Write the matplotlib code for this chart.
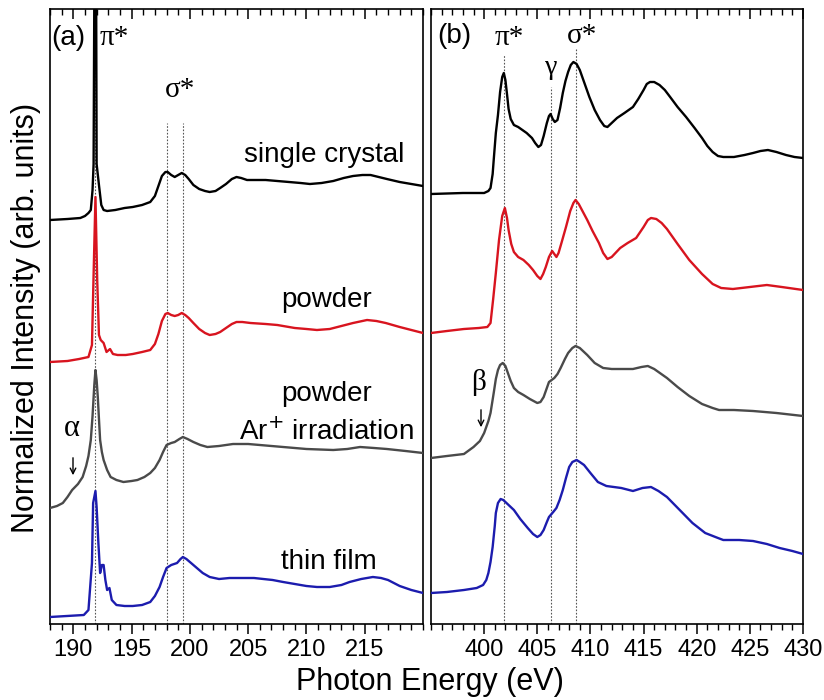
import matplotlib
matplotlib.use("Agg")
import matplotlib.pyplot as plt
from matplotlib.patches import FancyArrowPatch
from matplotlib.ticker import MultipleLocator, FixedLocator

plt.rcParams['font.family'] = ['Liberation Sans', 'DejaVu Sans']

# ---------------- B K-edge (panel a) ----------------
b_single_x = [188.0, 189.5, 190.6, 191.0, 191.3, 191.5, 191.65, 191.74, 191.9, 192.0, 192.2,
              192.4, 192.6, 192.9, 193.6, 194.4, 195.1, 195.9, 196.6, 197.0, 197.3, 197.6,
              197.9, 198.1, 198.4, 198.7, 199.0, 199.3, 199.6, 199.9, 200.3, 200.8, 201.3,
              201.7, 202.2, 202.6, 203.1, 203.6, 204.0, 204.4, 204.9, 205.5, 206.5, 207.5,
              208.5, 209.5, 210.3, 211.3, 212.3, 213.2, 214.0, 214.8, 215.5, 216.2, 216.9,
              218.0, 219.0, 220.0]
b_single_y = [4.04, 4.05, 4.06, 4.08, 4.11, 4.14, 4.34, 4.60, 9.00, 4.60, 4.39,
              4.19, 4.14, 4.13, 4.14, 4.16, 4.17, 4.19, 4.22, 4.28, 4.38, 4.48,
              4.52, 4.52, 4.49, 4.47, 4.49, 4.51, 4.49, 4.45, 4.39, 4.35, 4.33,
              4.32, 4.33, 4.36, 4.40, 4.45, 4.47, 4.46, 4.44, 4.44, 4.44, 4.43,
              4.42, 4.41, 4.40, 4.41, 4.43, 4.46, 4.48, 4.49, 4.49, 4.47, 4.45,
              4.42, 4.40, 4.38]

b_powder_x = [188.0, 189.5, 190.5, 191.3, 191.6, 191.75, 191.9, 192.05, 192.2, 192.35, 192.6,
              192.85, 193.15, 193.4, 193.8, 194.5, 195.1, 195.9, 196.6, 197.0, 197.3, 197.6,
              197.9, 198.1, 198.4, 198.7, 199.0, 199.3, 199.6, 199.9, 200.3, 200.8, 201.3,
              201.7, 202.2, 202.6, 203.1, 203.6, 204.0, 204.5, 205.2, 206.5, 207.5, 209.0,
              210.0, 210.9, 212.0, 213.0, 214.0, 215.2, 216.0, 216.8, 218.0, 219.0, 220.0]
b_powder_y = [2.62, 2.63, 2.65, 2.67, 2.79, 3.54, 4.27, 3.44, 2.89, 2.84, 2.81,
              2.72, 2.75, 2.70, 2.69, 2.69, 2.70, 2.72, 2.74, 2.80, 2.90, 3.03,
              3.10, 3.11, 3.09, 3.08, 3.09, 3.11, 3.09, 3.06, 3.01, 2.95, 2.91,
              2.89, 2.90, 2.92, 2.96, 3.00, 3.02, 3.02, 3.01, 3.00, 2.99, 2.96,
              2.95, 2.94, 2.95, 2.98, 3.01, 3.04, 3.03, 3.01, 2.97, 2.94, 2.91]

b_irrad_x = [188.0, 188.6, 189.1, 189.5, 189.9, 190.4, 190.8, 191.1, 191.3, 191.5, 191.65,
             191.8, 191.9, 192.0, 192.1, 192.2, 192.3, 192.45, 192.6, 192.9, 193.2, 193.7,
             194.3, 195.0, 195.5, 196.1, 196.6, 197.0, 197.4, 197.7, 198.0, 198.4, 198.7,
             199.1, 199.4, 199.8, 200.3, 200.9, 201.5, 202.5, 203.7, 205.0, 206.0, 208.0,
             210.0, 212.3, 213.5, 214.6, 215.8, 216.9, 218.5, 220.0]
b_irrad_y = [1.16, 1.18, 1.21, 1.27, 1.34, 1.40, 1.47, 1.58, 1.68, 1.84, 2.08,
             2.39, 2.54, 2.44, 2.27, 2.05, 1.84, 1.72, 1.64, 1.54, 1.47, 1.44,
             1.42, 1.43, 1.44, 1.47, 1.51, 1.56, 1.64, 1.72, 1.79, 1.81, 1.82,
             1.85, 1.87, 1.85, 1.82, 1.79, 1.77, 1.78, 1.80, 1.80, 1.79, 1.77,
             1.75, 1.74, 1.75, 1.77, 1.76, 1.75, 1.73, 1.71]

b_film_x = [188.0, 190.9, 191.3, 191.6, 191.7, 191.9, 192.0, 192.15, 192.3, 192.45, 192.6,
            192.75, 192.9, 193.1, 193.3, 193.7, 194.4, 195.1, 195.9, 196.6, 197.0, 197.4,
            197.7, 198.0, 198.4, 198.9, 199.2, 199.4, 199.7, 200.1, 200.6, 201.1, 201.7,
            202.5, 203.4, 204.3, 205.5, 207.1, 208.0, 209.0, 210.0, 210.9, 212.0, 213.0,
            213.7, 214.7, 215.7, 216.4, 217.0, 218.0, 219.0, 220.0]
b_film_y = [0.07, 0.09, 0.14, 0.61, 1.21, 1.33, 1.17, 0.81, 0.51, 0.59, 0.59,
            0.44, 0.34, 0.36, 0.24, 0.19, 0.18, 0.18, 0.19, 0.22, 0.28, 0.37,
            0.47, 0.56, 0.59, 0.61, 0.65, 0.67, 0.65, 0.61, 0.56, 0.51, 0.47,
            0.45, 0.46, 0.46, 0.46, 0.44, 0.42, 0.40, 0.38, 0.37, 0.37, 0.39,
            0.42, 0.45, 0.47, 0.46, 0.44, 0.38, 0.34, 0.31]

# ---------------- N K-edge (panel b) ----------------
n_single_x = [395.0, 398.0, 400.0, 400.4, 400.6, 400.8, 400.9, 401.1, 401.3, 401.5, 401.7,
              401.85, 402.0, 402.15, 402.3, 402.5, 402.8, 403.2, 403.6, 404.0, 404.5, 404.8,
              405.1, 405.35, 405.6, 405.9, 406.1, 406.25, 406.45, 406.65, 406.9, 407.15,
              407.4, 407.65, 407.9, 408.15, 408.4, 408.7, 409.0, 409.4, 409.9, 410.4, 410.9,
              411.3, 411.6, 411.9, 412.5, 413.2, 414.0, 414.5, 415.0, 415.3, 415.6, 416.0,
              416.5, 417.0, 417.5, 418.2, 419.0, 419.8, 420.5, 421.0, 421.5, 422.0, 422.5,
              423.5, 424.5, 425.3, 426.0, 426.7, 427.5, 428.4, 429.2, 430.0]
n_single_y = [4.30, 4.31, 4.31, 4.33, 4.36, 4.50, 4.64, 4.91, 5.09, 5.32, 5.47,
              5.51, 5.44, 5.30, 5.15, 5.05, 4.99, 4.97, 4.94, 4.91, 4.86, 4.81,
              4.77, 4.79, 4.88, 5.01, 5.08, 5.10, 5.05, 5.02, 5.04, 5.16,
              5.31, 5.43, 5.52, 5.59, 5.62, 5.60, 5.54, 5.42, 5.27, 5.14, 5.04,
              4.98, 4.97, 5.00, 5.06, 5.11, 5.17, 5.25, 5.34, 5.40, 5.42, 5.42,
              5.39, 5.34, 5.27, 5.17, 5.07, 4.96, 4.86, 4.78, 4.72, 4.68, 4.67,
              4.67, 4.69, 4.71, 4.73, 4.74, 4.72, 4.69, 4.67, 4.66]

n_powder_x = [395.0, 396.5, 398.1, 399.5, 400.3, 400.6, 400.85, 401.1, 401.4, 401.7, 401.95,
              402.15, 402.3, 402.55, 402.8, 403.2, 403.7, 404.2, 404.6, 405.0, 405.3, 405.55,
              405.8, 406.1, 406.4, 406.6, 406.8, 407.0, 407.3, 407.7, 408.1, 408.4, 408.6,
              408.9, 409.3, 409.7, 410.2, 410.8, 411.2, 411.6, 412.0, 412.8, 413.5, 414.3,
              415.0, 415.4, 415.7, 416.2, 416.7, 417.2, 418.2, 419.3, 420.5, 421.5, 422.3,
              423.4, 425.0, 426.6, 428.0, 430.0]
n_powder_y = [2.91, 2.93, 2.95, 2.96, 2.97, 3.01, 3.25, 3.51, 3.84, 4.08, 4.16,
              4.06, 3.94, 3.80, 3.72, 3.67, 3.64, 3.59, 3.54, 3.48, 3.45, 3.50,
              3.57, 3.67, 3.73, 3.70, 3.67, 3.71, 3.82, 3.97, 4.13, 4.21, 4.24,
              4.20, 4.12, 4.04, 3.93, 3.81, 3.71, 3.65, 3.67, 3.76, 3.81, 3.86,
              3.97, 4.04, 4.06, 4.05, 4.01, 3.95, 3.80, 3.64, 3.50, 3.40, 3.36,
              3.35, 3.37, 3.39, 3.37, 3.34]

n_irrad_x = [395.0, 396.5, 398.1, 399.0, 399.6, 400.0, 400.4, 400.6, 400.9, 401.1, 401.3,
             401.5, 401.75, 402.0, 402.2, 402.5, 402.8, 403.2, 403.7, 404.3, 405.0, 405.3,
             405.6, 405.9, 406.1, 406.6, 406.9, 407.2, 407.6, 407.9, 408.3, 408.6, 409.0,
             409.7, 410.4, 411.2, 412.0, 412.9, 414.0, 414.8, 415.4, 416.0, 417.2, 418.2,
             419.3, 420.5, 421.5, 422.1, 423.5, 425.3, 427.5, 430.0]
n_irrad_y = [1.66, 1.68, 1.70, 1.77, 1.83, 1.91, 2.03, 2.11, 2.31, 2.45, 2.54,
             2.59, 2.61, 2.58, 2.52, 2.43, 2.36, 2.32, 2.29, 2.25, 2.21, 2.22,
             2.27, 2.36, 2.42, 2.46, 2.50, 2.56, 2.65, 2.71, 2.76, 2.78, 2.76,
             2.69, 2.61, 2.56, 2.55, 2.55, 2.55, 2.57, 2.58, 2.55, 2.46, 2.37,
             2.28, 2.20, 2.16, 2.14, 2.14, 2.13, 2.11, 2.08]

n_film_x = [395.0, 396.5, 398.1, 399.3, 399.9, 400.2, 400.4, 400.6, 400.8, 401.0, 401.1,
            401.3, 401.55, 401.8, 402.0, 402.4, 402.8, 403.4, 404.1, 404.6, 405.0, 405.3,
            405.6, 405.9, 406.1, 406.5, 406.8, 407.1, 407.4, 407.7, 408.0, 408.3, 408.7,
            409.0, 409.4, 410.0, 410.7, 411.5, 412.9, 414.0, 414.9, 415.7, 416.4, 417.2,
            418.4, 419.6, 420.8, 422.0, 422.5, 424.0, 425.3, 426.6, 427.8, 429.0, 430.0]
n_film_y = [0.31, 0.32, 0.34, 0.36, 0.39, 0.44, 0.51, 0.62, 0.77, 0.98, 1.11,
            1.21, 1.25, 1.24, 1.22, 1.18, 1.14, 1.05, 0.96, 0.90, 0.87, 0.89,
            0.94, 1.02, 1.07, 1.12, 1.16, 1.24, 1.34, 1.46, 1.57, 1.62, 1.64,
            1.62, 1.59, 1.51, 1.42, 1.38, 1.36, 1.33, 1.36, 1.37, 1.33, 1.27,
            1.14, 1.01, 0.91, 0.86, 0.84, 0.84, 0.83, 0.80, 0.76, 0.73, 0.70]

b_marks = [191.9, 198.0, 199.4]
n_marks = [401.85, 406.3, 408.6]
b_mark_tops = [0.93, 0.815, 0.815]
n_mark_tops = [0.925, 0.873, 0.937]

colors = ['#000000', '#d8141f', '#4a4a4a', '#1c1cae']

W, H = 824, 700
fig = plt.figure(figsize=(W / 100, H / 100), dpi=100)


def frac(px, py):
    return px / W, 1 - py / H


ax_a = fig.add_axes([50 / W, 1 - 624 / H, 373 / W, 615 / H])
ax_b = fig.add_axes([431 / W, 1 - 624 / H, 372 / W, 615 / H])

for ax, marks, tops in ((ax_a, b_marks, b_mark_tops), (ax_b, n_marks, n_mark_tops)):
    for m, t in zip(marks, tops):
        ax.axvline(m, ymin=0, ymax=t, color='#555555', lw=0.8, ls=(0, (1.5, 1.5)), zorder=1)

lw = 1.7
for xs, ys, c in ((b_single_x, b_single_y, colors[0]), (b_powder_x, b_powder_y, colors[1]),
                  (b_irrad_x, b_irrad_y, colors[2]), (b_film_x, b_film_y, colors[3])):
    ax_a.plot(xs, ys, color=c, lw=lw, zorder=3, solid_joinstyle='round')
for xs, ys, c in ((n_single_x, n_single_y, colors[0]), (n_powder_x, n_powder_y, colors[1]),
                  (n_irrad_x, n_irrad_y, colors[2]), (n_film_x, n_film_y, colors[3])):
    ax_b.plot(xs, ys, color=c, lw=lw, zorder=3, solid_joinstyle='round')

ax_a.set_xlim(188, 220)
ax_b.set_xlim(395, 430)
for ax in (ax_a, ax_b):
    ax.set_ylim(0, 6.15)
    ax.set_yticks([])
    for s in ax.spines.values():
        s.set_linewidth(1.2)
    ax.xaxis.set_minor_locator(MultipleLocator(1))
    ax.tick_params(axis='x', which='both', bottom=True, top=True, labelsize=17, pad=4)
    ax.tick_params(axis='x', which='major', length=7, width=1.1)
    ax.tick_params(axis='x', which='minor', length=4, width=1.0)
    ax.tick_params(axis='x', which='both', direction='out')
    for t in ax.xaxis.get_major_ticks() + ax.xaxis.get_minor_ticks():
        t.tick2line.set_marker(matplotlib.lines.TICKDOWN)
ax_a.xaxis.set_major_locator(FixedLocator([190, 195, 200, 205, 210, 215]))
ax_b.xaxis.set_major_locator(FixedLocator([400, 405, 410, 415, 420, 425, 430]))
for ax in (ax_a, ax_b):
    for t in ax.xaxis.get_major_ticks() + ax.xaxis.get_minor_ticks():
        t.tick2line.set_marker(matplotlib.lines.TICKDOWN)

greek = ['Liberation Serif', 'DejaVu Serif']
fs_lab = 20
fig.text(*frac(68, 38), '(a)', fontsize=20, ha='center', va='center')
fig.text(*frac(454, 36), '(b)', fontsize=20, ha='center', va='center')
fig.text(*frac(114, 38), 'π*', fontsize=21, ha='center', va='center', family=greek)
fig.text(*frac(180, 90), 'σ*', fontsize=21, ha='center', va='center', family=greek)
fig.text(*frac(509, 38), 'π*', fontsize=21, ha='center', va='center', family=greek)
fig.text(*frac(582, 36), 'σ*', fontsize=21, ha='center', va='center', family=greek)
fig.text(*frac(551, 67), 'γ', fontsize=20, ha='center', va='center', family=greek)
fig.text(*frac(72, 428), 'α', fontsize=22, ha='center', va='center', family=greek)
fig.text(*frac(479, 383), 'β', fontsize=21, ha='center', va='center', family=greek)

fig.text(*frac(324, 155), 'single crystal', fontsize=fs_lab, ha='center', va='center')
fig.text(*frac(327, 300), 'powder', fontsize=fs_lab, ha='center', va='center')
fig.text(*frac(327, 394), 'powder', fontsize=fs_lab, ha='center', va='center')
fig.text(*frac(326, 432), 'Ar$^{+}$ irradiation', fontsize=fs_lab, ha='center', va='center')
fig.text(*frac(329, 562), 'thin film', fontsize=fs_lab, ha='center', va='center')

arrow = dict(arrowstyle='->', lw=1.0, color='black', mutation_scale=10)
fig.add_artist(FancyArrowPatch(frac(73, 455), frac(73, 478), transform=fig.transFigure, **arrow))
fig.add_artist(FancyArrowPatch(frac(481, 407), frac(481, 430), transform=fig.transFigure, **arrow))

fig.text(*frac(430, 682), 'Photon Energy (eV)', fontsize=22, ha='center', va='center')
fig.text(*frac(26, 318), 'Normalized Intensity (arb. units)', fontsize=22,
         ha='center', va='center', rotation=90)

fig.savefig('out.png', dpi=100)
